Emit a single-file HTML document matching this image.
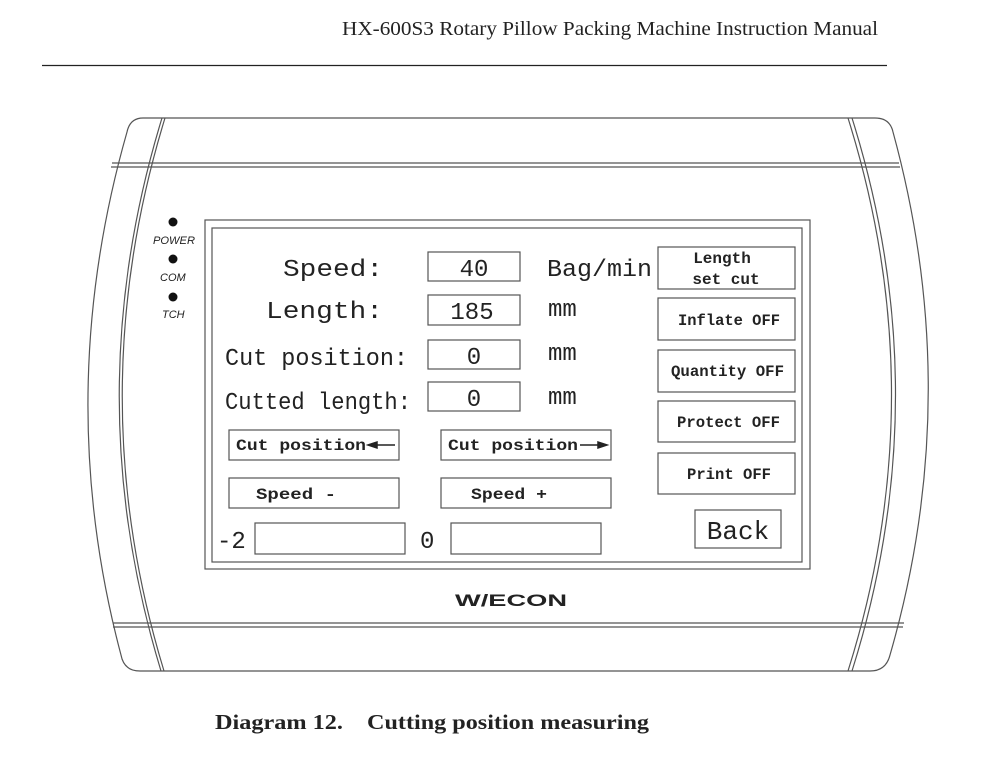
<!DOCTYPE html>
<html><head><style>
body{margin:0;background:#fff;}
svg text{font-family:"Liberation Mono",monospace;fill:#222;}
</style></head><body>
<svg width="1000" height="764" viewBox="0 0 1000 764" xmlns="http://www.w3.org/2000/svg">
<text x="342" y="35" textLength="536" lengthAdjust="spacingAndGlyphs" style="font-family:'Liberation Serif',serif;font-size:20px" fill="#111">HX-600S3 Rotary Pillow Packing Machine Instruction Manual</text>
<line x1="42" y1="65.5" x2="887" y2="65.5" stroke="#222" stroke-width="1.2"/>
<g fill="none" stroke="#555" stroke-width="1.2">
<path d="M143,118 L875,118 Q890,118 893,132 Q965,395 890,655 Q886,671 870,671 L140,671 Q124,671 121,655 Q52,395 127,132 Q130,118 143,118 Z"/>
<line x1="112" y1="163" x2="899" y2="163"/><line x1="111" y1="167" x2="900" y2="167"/>
<line x1="113" y1="623" x2="904" y2="623"/><line x1="113" y1="627" x2="903" y2="627"/>
<path d="M162,118 Q77,395 161,671"/><path d="M165,118 Q80,395 164,671"/>
<path d="M848,118 Q935,395 848,671"/><path d="M852,118 Q939,395 852,671"/>
<rect x="205" y="220" width="605" height="349"/>
<rect x="212" y="228" width="590" height="334"/>
<rect x="428" y="252" width="92" height="29"/>
<rect x="428" y="295" width="92" height="30"/>
<rect x="428" y="340" width="92" height="29"/>
<rect x="428" y="382" width="92" height="29"/>
<rect x="658" y="247" width="137" height="42"/>
<rect x="658" y="298" width="137" height="42"/>
<rect x="658" y="350" width="137" height="42"/>
<rect x="658" y="401" width="137" height="41"/>
<rect x="658" y="453" width="137" height="41"/>
<rect x="695" y="510" width="86" height="38"/>
<rect x="229" y="430" width="170" height="30"/>
<rect x="441" y="430" width="170" height="30"/>
<rect x="229" y="478" width="170" height="30"/>
<rect x="441" y="478" width="170" height="30"/>
<rect x="255" y="523" width="150" height="31"/>
<rect x="451" y="523" width="150" height="31"/>
</g>
<g fill="#111">
<circle cx="173" cy="222" r="4.5"/><circle cx="173" cy="259" r="4.5"/><circle cx="173" cy="297" r="4.5"/>
</g>
<g style="font-style:italic;font-size:11px" fill="#111">
<text x="153" y="244" textLength="42" lengthAdjust="spacingAndGlyphs" style="font-family:'Liberation Sans',sans-serif">POWER</text>
<text x="160" y="281" style="font-family:'Liberation Sans',sans-serif">COM</text>
<text x="162" y="318" style="font-family:'Liberation Sans',sans-serif">TCH</text>
</g>
<g font-size="24">
<text x="283" y="276" textLength="100" lengthAdjust="spacingAndGlyphs">Speed:</text>
<text x="266" y="318" textLength="117" lengthAdjust="spacingAndGlyphs">Length:</text>
<text x="225" y="365" textLength="183" lengthAdjust="spacingAndGlyphs">Cut position:</text>
<text x="225" y="409" textLength="186" lengthAdjust="spacingAndGlyphs">Cutted length:</text>
<text x="474" y="276" text-anchor="middle">40</text>
<text x="472" y="319" text-anchor="middle">185</text>
<text x="474" y="364" text-anchor="middle">0</text>
<text x="474" y="406" text-anchor="middle">0</text>
<text x="547" y="276" textLength="105" lengthAdjust="spacingAndGlyphs">Bag/min</text>
<text x="548" y="316">mm</text>
<text x="548" y="360">mm</text>
<text x="548" y="404">mm</text>
<text x="217" y="548">-2</text>
<text x="420" y="548">0</text>
<text x="738" y="539" text-anchor="middle" font-size="26">Back</text>
</g>
<g font-size="16" font-weight="bold">
<text x="722" y="263" text-anchor="middle">Length</text>
<text x="726" y="284" text-anchor="middle">set cut</text>
<text x="678" y="325" textLength="102" lengthAdjust="spacingAndGlyphs">Inflate OFF</text>
<text x="671" y="376" textLength="113" lengthAdjust="spacingAndGlyphs">Quantity OFF</text>
<text x="677" y="427" textLength="103" lengthAdjust="spacingAndGlyphs">Protect OFF</text>
<text x="687" y="479" textLength="84" lengthAdjust="spacingAndGlyphs">Print OFF</text>
<text x="236" y="450" textLength="130" lengthAdjust="spacingAndGlyphs">Cut position</text>
<text x="448" y="450" textLength="130" lengthAdjust="spacingAndGlyphs">Cut position</text>
<text x="256" y="499" textLength="80" lengthAdjust="spacingAndGlyphs">Speed -</text>
<text x="471" y="499" textLength="76" lengthAdjust="spacingAndGlyphs">Speed +</text>
</g>
<g stroke="#222" stroke-width="1.5" fill="#222">
<line x1="370" y1="445" x2="395" y2="445"/><path d="M368,445 l9,-3 v6 z"/>
<line x1="580" y1="445" x2="605" y2="445"/><path d="M607,445 l-9,-3 v6 z"/>
</g>
<text x="455" y="606" textLength="112" lengthAdjust="spacingAndGlyphs" style="font-family:'Liberation Sans',sans-serif;font-weight:bold;font-size:17px" fill="#111">W/ECON</text>
<text x="215" y="729" style="font-family:'Liberation Serif',serif;font-weight:bold;font-size:21px" fill="#111"><tspan textLength="128" lengthAdjust="spacingAndGlyphs">Diagram 12.</tspan></text>
<text x="367" y="729" textLength="282" lengthAdjust="spacingAndGlyphs" style="font-family:'Liberation Serif',serif;font-weight:bold;font-size:21px" fill="#111">Cutting position measuring</text>
</svg>
</body></html>
